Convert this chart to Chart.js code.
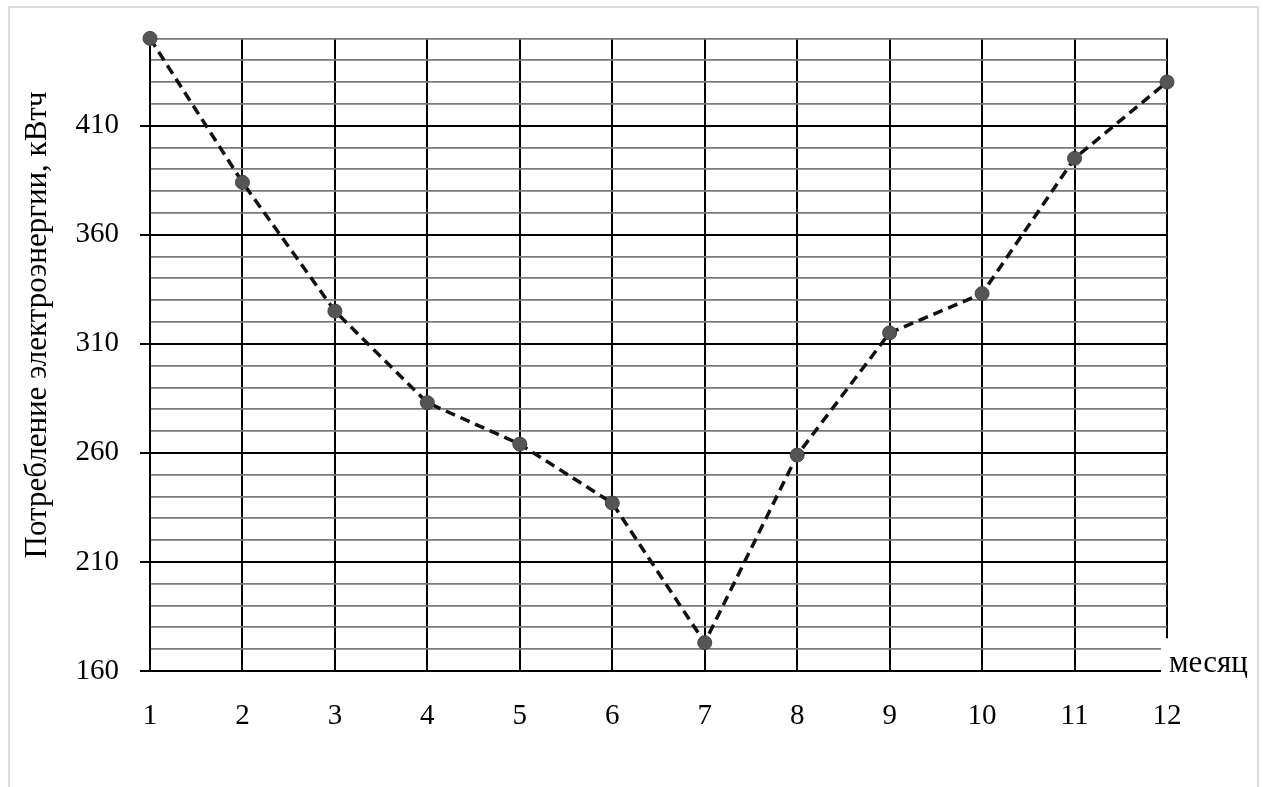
<!DOCTYPE html>
<html>
<head>
<meta charset="utf-8">
<script src="https://cdn.jsdelivr.net/npm/chart.js@4/dist/chart.umd.min.js"></script>
<style>
  html, body { margin: 0; padding: 0; background: #fff; }
</style>
</head>
<body>
<canvas id="grafico" width="1263" height="787"></canvas>
<script>
// dados
const meses = ['1', '2', '3', '4', '5', '6', '7', '8', '9', '10', '11', '12'];
const consumo = [450, 384, 325, 283, 264, 237, 173, 259, 315, 333, 395, 430];
const yMin = 160;
const yMax = 450;
const yPasso = 10;    // linhas finas
const yRotulo = 50;   // linhas grossas com numero
const tituloY = 'Потребление электроэнергии, кВтч';
const tituloX = 'месяц';

const fonte = 'Liberation Serif';
const ehPrincipal = v => (v - yMin) % yRotulo === 0;

// -------------------------------------------------------
// moldura, titulo do eixo y e "месяц"
const extras = {
  id: 'extras',
  beforeDraw(chart) {
    const c = chart.ctx;
    c.save();
    c.fillStyle = '#fff';
    c.fillRect(0, 0, chart.width, chart.height);
    c.strokeStyle = '#dcdcdc';
    c.lineWidth = 2;
    c.strokeRect(9, 7, 1249, 800);
    c.restore();
  },
  afterDraw(chart) {
    const c = chart.ctx;
    const area = chart.chartArea;
    const y = chart.scales.y;
    c.save();
    // canto de baixo a direita fica aberto para a palavra
    c.fillStyle = '#fff';
    c.fillRect(area.right - 6, y.getPixelForValue(175), 90, 40);
    c.fillStyle = '#000';
    c.font = '31px "' + fonte + '"';
    c.textBaseline = 'alphabetic';
    c.textAlign = 'left';
    c.fillText(tituloX, area.right + 2, area.bottom + 1);
    // titulo vertical
    c.translate(38, 325);
    c.rotate(-Math.PI / 2);
    c.textAlign = 'center';
    c.textBaseline = 'middle';
    c.font = '31px "' + fonte + '"';
    c.fillText(tituloY, 0, 0);
    c.restore();
  }
};

const ctx = document.getElementById('grafico').getContext('2d');
const grafico = new Chart(ctx, {
  type: 'line',
  data: {
    labels: meses,
    datasets: [{
      data: consumo,
      borderColor: '#111',
      borderWidth: 3.5,
      borderDash: [10, 6],
      pointRadius: 7,
      pointBackgroundColor: '#555',
      pointBorderColor: '#444',
      pointBorderWidth: 1,
      tension: 0,
      clip: false
    }]
  },
  options: {
    responsive: false,
    animation: false,
    layout: { padding: { left: 0, right: 96, top: 37, bottom: 0 } },
    plugins: {
      legend: { display: false },
      tooltip: { enabled: false }
    },
    scales: {
      x: {
        offset: false,
        afterFit: s => { s.height = 116; },
        border: { color: '#000', width: 2 },
        grid: { color: '#000', lineWidth: 2, drawTicks: false },
        ticks: {
          color: '#000',
          padding: 28,
          maxRotation: 0,
          font: { family: fonte, size: 29 }
        }
      },
      y: {
        min: yMin,
        max: yMax,
        afterFit: s => { s.width = 150; },
        border: { color: '#000', width: 2 },
        grid: {
          color: c => ehPrincipal(c.tick.value) ? '#000' : '#7a7a7a',
          lineWidth: c => ehPrincipal(c.tick.value) ? 2 : 1.8,
          tickLength: 10,
          tickColor: c => ehPrincipal(c.tick.value) ? '#000' : 'rgba(0,0,0,0)'
        },
        ticks: {
          stepSize: yPasso,
          autoSkip: false,
          color: '#000',
          padding: 21,
          font: { family: fonte, size: 29 },
          callback: v => ehPrincipal(v) ? String(v) : ''
        }
      }
    }
  },
  plugins: [extras]
});
</script>
</body>
</html>
